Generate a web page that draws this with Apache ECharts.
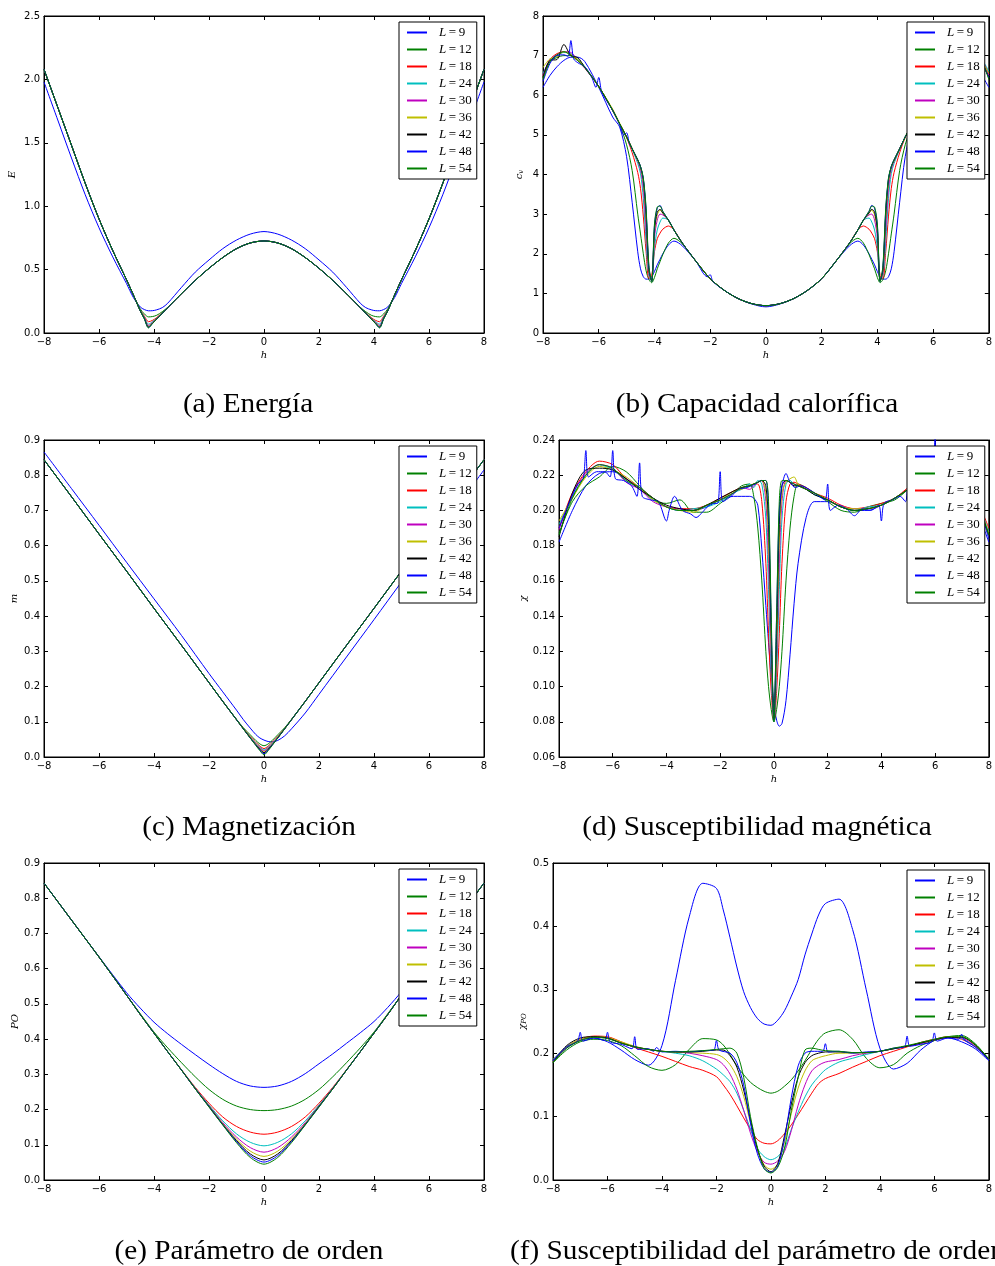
<!DOCTYPE html>
<html>
<head>
<meta charset="utf-8">
<script src="https://cdn.jsdelivr.net/npm/echarts@6/dist/echarts.min.js"></script>
<style>
html, body { margin: 0; padding: 0; background: #ffffff; }
#chart { width: 995px; height: 1266px; }
</style>
</head>
<body>
<div id="chart"></div>
<script>
// ---------- system sizes ----------
const sizeNames = ['L=9', 'L=12', 'L=18', 'L=24', 'L=30', 'L=36', 'L=42', 'L=48', 'L=54'];
const xTicks = [-8, -6, -4, -2, 0, 2, 4, 6, 8];

// ---------- (a) energy E(h) ----------
const hA = [-8,-7.5,-7,-6.5,-6,-5.5,-5,-4.75,-4.5,-4.35,-4.2,-4.05,-3.9,-3.7,-3.5,-3,-2.5,-2,-1.5,-1,-0.5,0,0.5,1,1.5,2,2.5,3,3.5,3.7,3.9,4.05,4.2,4.35,4.5,4.75,5,5.5,6,6.5,7,7.5,8];
const eL9  = [1.98,1.68,1.38,1.09,0.83,0.6,0.39,0.28,0.205,0.185,0.175,0.176,0.183,0.2,0.235,0.36,0.48,0.576,0.665,0.733,0.78,0.8,0.78,0.733,0.665,0.576,0.48,0.36,0.235,0.2,0.183,0.176,0.175,0.185,0.205,0.28,0.39,0.6,0.83,1.09,1.38,1.68,1.98];
const eL12 = [2.08,1.78,1.48,1.18,0.9,0.65,0.42,0.3,0.19,0.15,0.127,0.13,0.14,0.168,0.203,0.31,0.415,0.51,0.595,0.665,0.71,0.726,0.71,0.665,0.595,0.51,0.415,0.31,0.203,0.168,0.14,0.13,0.127,0.15,0.19,0.3,0.42,0.65,0.9,1.18,1.48,1.78,2.08];
const eL18 = [2.08,1.78,1.48,1.18,0.9,0.65,0.42,0.3,0.18,0.133,0.089,0.1,0.122,0.16,0.2,0.31,0.415,0.51,0.595,0.665,0.71,0.726,0.71,0.665,0.595,0.51,0.415,0.31,0.2,0.16,0.122,0.1,0.089,0.133,0.18,0.3,0.42,0.65,0.9,1.18,1.48,1.78,2.08];
const eL24 = [2.08,1.78,1.48,1.18,0.9,0.65,0.42,0.3,0.177,0.125,0.07,0.09,0.117,0.155,0.2,0.31,0.415,0.51,0.595,0.665,0.71,0.726,0.71,0.665,0.595,0.51,0.415,0.31,0.2,0.155,0.117,0.09,0.07,0.125,0.177,0.3,0.42,0.65,0.9,1.18,1.48,1.78,2.08];
const eL30 = [2.08,1.78,1.48,1.18,0.9,0.65,0.42,0.3,0.176,0.12,0.06,0.085,0.114,0.155,0.2,0.31,0.415,0.51,0.595,0.665,0.71,0.726,0.71,0.665,0.595,0.51,0.415,0.31,0.2,0.155,0.114,0.085,0.06,0.12,0.176,0.3,0.42,0.65,0.9,1.18,1.48,1.78,2.08];
const eL36 = [2.08,1.78,1.48,1.18,0.9,0.65,0.42,0.3,0.175,0.116,0.052,0.081,0.112,0.155,0.2,0.31,0.415,0.51,0.595,0.665,0.71,0.726,0.71,0.665,0.595,0.51,0.415,0.31,0.2,0.155,0.112,0.081,0.052,0.116,0.175,0.3,0.42,0.65,0.9,1.18,1.48,1.78,2.08];
const eL42 = [2.08,1.78,1.48,1.18,0.9,0.65,0.42,0.3,0.175,0.114,0.047,0.079,0.11,0.155,0.2,0.31,0.415,0.51,0.595,0.665,0.71,0.726,0.71,0.665,0.595,0.51,0.415,0.31,0.2,0.155,0.11,0.079,0.047,0.114,0.175,0.3,0.42,0.65,0.9,1.18,1.48,1.78,2.08];
const eL48 = [2.08,1.78,1.48,1.18,0.9,0.65,0.42,0.3,0.175,0.112,0.043,0.077,0.11,0.155,0.2,0.31,0.415,0.51,0.595,0.665,0.71,0.726,0.71,0.665,0.595,0.51,0.415,0.31,0.2,0.155,0.11,0.077,0.043,0.112,0.175,0.3,0.42,0.65,0.9,1.18,1.48,1.78,2.08];
const eL54 = [2.08,1.78,1.48,1.18,0.9,0.65,0.42,0.3,0.175,0.11,0.04,0.075,0.11,0.155,0.2,0.31,0.415,0.51,0.595,0.665,0.71,0.726,0.71,0.665,0.595,0.51,0.415,0.31,0.2,0.155,0.11,0.075,0.04,0.11,0.175,0.3,0.42,0.65,0.9,1.18,1.48,1.78,2.08];

// ---------- (b) specific heat c_v(h) ----------
const hB = [-8,-7.75,-7.5,-7.25,-7,-6.75,-6.5,-6,-5.5,-5.25,-5,-4.8,-4.6,-4.5,-4.4,-4.3,-4.2,-4.1,-4,-3.9,-3.8,-3.7,-3.5,-3.3,-3,-2.5,-2,-1.5,-1,-0.5,0,0.5,1,1.5,2,2.5,3,3.3,3.5,3.7,3.8,3.9,4,4.1,4.2,4.3,4.4,4.5,4.6,4.8,5,5.25,5.5,6,6.5,7,7.5,7.75,8];
const cL9  = [6.2,6.5,6.72,6.88,6.96,6.96,6.85,6.2,5.45,5.2,4.45,3.3,2.05,1.62,1.42,1.36,1.36,1.42,1.55,1.72,1.86,2.0,2.22,2.32,2.2, 1.8,1.37,1.08,0.87,0.73,0.66,0.73,0.87,1.08,1.37,1.8, 2.2,2.32,2.22,2.0,1.86,1.72,1.55,1.42,1.36,1.36,1.42,1.62,2.05,3.3,4.45,5.2,5.45,6.2,6.85,6.96,6.72,6.5,6.2];
const cL12 = [6.45,6.85,6.95,7.0,7.0,6.9,6.72,6.22,5.62,5.26,4.75,4.1,3.0,2.5,2.0,1.57,1.35,1.27,1.4,1.62,1.8,1.98,2.27,2.39,2.25, 1.8,1.37,1.08,0.87,0.74,0.69,0.74,0.87,1.08,1.37,1.8, 2.25,2.39,2.27,1.98,1.8,1.62,1.4,1.27,1.35,1.57,2.0,2.5,3.0,4.1,4.75,5.26,5.62,6.22,6.72,7.0,6.95,6.85,6.45];
const cL18 = [6.5,6.9,7.05,7.1,7.02,6.88,6.7,6.22,5.62,5.28,4.93,4.55,4.05,3.65,2.95,2.05,1.38,1.45,2.05,2.38,2.52,2.62,2.7,2.6,2.27, 1.8,1.37,1.08,0.87,0.74,0.69,0.74,0.87,1.08,1.37,1.8, 2.27,2.6,2.7,2.62,2.52,2.38,2.05,1.45,1.38,2.05,2.95,3.65,4.05,4.55,4.93,5.28,5.62,6.22,6.7,7.02,7.05,6.9,6.5];
const cL24 = [6.55,6.88,7.0,7.08,7.05,6.9,6.7,6.22,5.62,5.28,4.95,4.63,4.28,4.02,3.4,2.3,1.45,1.35,2.15,2.6,2.8,2.9,2.85,2.6,2.27, 1.8,1.37,1.08,0.87,0.74,0.69,0.74,0.87,1.08,1.37,1.8, 2.27,2.6,2.85,2.9,2.8,2.6,2.15,1.35,1.45,2.3,3.4,4.02,4.28,4.63,4.95,5.28,5.62,6.22,6.7,7.05,7.0,6.9,6.6];
const cL30 = [6.5,6.9,7.02,7.1,7.08,6.88,6.68,6.22,5.62,5.28,4.95,4.65,4.33,4.12,3.65,2.6,1.5,1.33,2.4,2.85,3.0,2.98,2.85,2.6,2.27, 1.8,1.37,1.08,0.87,0.74,0.69,0.74,0.87,1.08,1.37,1.8, 2.27,2.6,2.85,2.98,3.0,2.85,2.4,1.33,1.5,2.6,3.65,4.12,4.33,4.65,4.95,5.28,5.62,6.22,6.68,7.08,7.02,6.9,6.5];
const cL36 = [6.7,6.92,6.97,7.1,7.03,6.9,6.7,6.22,5.65,5.3,4.95,4.65,4.35,4.18,3.8,2.9,1.55,1.32,2.55,2.98,3.1,3.02,2.85,2.6,2.27, 1.8,1.37,1.08,0.87,0.74,0.69,0.74,0.87,1.08,1.37,1.8, 2.27,2.6,2.85,3.02,3.1,2.98,2.55,1.32,1.55,2.9,3.8,4.18,4.35,4.65,4.95,5.3,5.65,6.22,6.7,7.03,6.97,6.85,6.55];
const cL42 = [6.45,6.88,6.9,7.28,7.0,6.95,6.7,6.22,5.62,5.28,4.95,4.65,4.37,4.2,3.88,3.0,1.6,1.31,2.6,3.05,3.12,3.03,2.85,2.6,2.27, 1.8,1.37,1.08,0.87,0.74,0.69,0.74,0.87,1.08,1.37,1.8, 2.27,2.6,2.85,3.03,3.12,3.05,2.6,1.31,1.6,3.0,3.88,4.2,4.37,4.65,4.95,5.28,5.62,6.22,6.7,7.0,6.95,6.8,6.45];
const cL54 = [6.4,6.85,7.02,7.1,7.0,6.87,6.7,6.22,5.62,5.28,4.95,4.65,4.37,4.2,3.92,3.15,1.7,1.3,2.75,3.18,3.2,3.07,2.85,2.6,2.27, 1.8,1.37,1.08,0.87,0.74,0.69,0.74,0.87,1.08,1.37,1.8, 2.27,2.6,2.85,3.07,3.2,3.18,2.75,1.3,1.7,3.15,3.92,4.2,4.37,4.65,4.95,5.28,5.62,6.22,6.7,7.0,7.02,6.85,6.4];
// L=48 is the noisiest run, so it keeps its own finer abscissae
const hB48 = [-8,-7.75,-7.5,-7.25,-7.1,-7,-6.9,-6.75,-6.5,-6.25,-6.1,-6,-5.9,-5.75,-5.5,-5.25,-5.1,-5,-4.9,-4.8,-4.6,-4.5,-4.4,-4.3,-4.2,-4.1,-4,-3.9,-3.8,-3.7,-3.5,-3.3,-3,-2.5,-2.1,-2,-1.9,-1.5,-1,-0.5,0,0.5,1,1.5,2,2.5,3,3.3,3.5,3.7,3.8,3.9,4,4.1,4.2,4.3,4.4,4.5,4.6,4.8,5,5.25,5.5,6,6.5,7,7.5,7.75,8];
const cL48 = [6.35,6.8,7.0,7.02,6.98,7.38,6.92,6.82,6.72,6.45,6.2,6.45,6.1,5.9,5.62,5.27,5.0,5.05,4.78,4.65,4.37,4.2,3.9,3.1,1.65,1.3,2.7,3.15,3.22,3.07,2.85,2.6,2.27,1.8,1.42,1.47,1.3,1.08,0.87,0.74,0.69,0.74,0.87,1.08,1.37,1.8,2.27,2.6,2.85,3.07,3.22,3.15,2.7,1.3,1.65,3.1,3.9,4.2,4.37,4.65,4.95,5.27,5.62,6.22,6.72,7.0,6.95,6.8,6.45];

// ---------- (c) magnetization m(h) ----------
const hC = [-8,-7,-6,-5,-4,-3,-2,-1.5,-1,-0.75,-0.5,-0.3,-0.15,0,0.15,0.3,0.5,0.75,1,1.5,2,3,4,5,6,7,8];
const mL9  = [0.866,0.762,0.658,0.553,0.449,0.345,0.237,0.185,0.133,0.106,0.082,0.064,0.054,0.048,0.044,0.043,0.047,0.06,0.08,0.125,0.178,0.284,0.39,0.497,0.603,0.709,0.815];
const mL12 = [0.844,0.739,0.633,0.528,0.422,0.317,0.211,0.158,0.107,0.083,0.063,0.047,0.037,0.032,0.037,0.047,0.063,0.083,0.107,0.158,0.211,0.317,0.422,0.528,0.633,0.739,0.844];
const mL18 = [0.844,0.739,0.633,0.528,0.422,0.317,0.211,0.158,0.106,0.081,0.058,0.042,0.031,0.024,0.031,0.042,0.058,0.081,0.106,0.158,0.211,0.317,0.422,0.528,0.633,0.739,0.844];
const mL24 = [0.844,0.739,0.633,0.528,0.422,0.317,0.211,0.158,0.106,0.08,0.056,0.039,0.028,0.02,0.028,0.039,0.056,0.08,0.106,0.158,0.211,0.317,0.422,0.528,0.633,0.739,0.844];
const mL30 = [0.844,0.739,0.633,0.528,0.422,0.317,0.211,0.158,0.106,0.08,0.055,0.037,0.026,0.017,0.026,0.037,0.055,0.08,0.106,0.158,0.211,0.317,0.422,0.528,0.633,0.739,0.844];
const mL36 = [0.844,0.739,0.633,0.528,0.422,0.317,0.211,0.158,0.106,0.08,0.054,0.036,0.024,0.014,0.024,0.036,0.054,0.08,0.106,0.158,0.211,0.317,0.422,0.528,0.633,0.739,0.844];
const mL42 = [0.844,0.739,0.633,0.528,0.422,0.317,0.211,0.158,0.106,0.08,0.054,0.035,0.022,0.012,0.022,0.035,0.054,0.08,0.106,0.158,0.211,0.317,0.422,0.528,0.633,0.739,0.844];
const mL48 = [0.844,0.739,0.633,0.528,0.422,0.317,0.211,0.158,0.106,0.08,0.054,0.034,0.02,0.009,0.02,0.034,0.054,0.08,0.106,0.158,0.211,0.317,0.422,0.528,0.633,0.739,0.844];
const mL54 = [0.844,0.739,0.633,0.528,0.422,0.317,0.211,0.158,0.106,0.08,0.054,0.033,0.018,0.006,0.018,0.033,0.054,0.08,0.106,0.158,0.211,0.317,0.422,0.528,0.633,0.739,0.844];

// ---------- (d) magnetic susceptibility chi(h) ----------
const hD = [-8,-7.5,-7,-6.5,-6,-5.5,-5,-4.5,-4,-3.5,-3,-2.5,-2,-1.5,-1.2,-0.9,-0.75,-0.6,-0.45,-0.3,-0.2,-0.1,0,0.1,0.2,0.3,0.45,0.6,0.75,0.9,1.2,1.5,2,2.5,3,3.5,4,4.5,5,5.5,6,6.5,7,7.5,8];
const xL9  = [0.182,0.2,0.214,0.221,0.222,0.218,0.213,0.207,0.202,0.2,0.2,0.202,0.206,0.208,0.208,0.208,0.207,0.203,0.178,0.146,0.125,0.105,0.09,0.081,0.0775,0.079,0.092,0.118,0.147,0.17,0.196,0.205,0.205,0.202,0.2,0.2,0.203,0.207,0.212,0.217,0.221,0.222,0.216,0.202,0.182];
const xL12 = [0.187,0.205,0.214,0.219,0.225,0.222,0.214,0.206,0.204,0.206,0.199,0.199,0.204,0.21,0.214,0.215,0.208,0.19,0.16,0.12,0.1,0.087,0.08,0.087,0.1,0.12,0.16,0.19,0.208,0.215,0.213,0.21,0.205,0.2,0.199,0.202,0.204,0.206,0.212,0.218,0.223,0.224,0.219,0.207,0.186];
const xL18 = [0.19,0.21,0.222,0.228,0.226,0.218,0.213,0.207,0.202,0.201,0.201,0.203,0.207,0.211,0.213,0.214,0.215,0.215,0.205,0.17,0.13,0.097,0.08,0.097,0.13,0.17,0.205,0.215,0.216,0.215,0.213,0.21,0.207,0.203,0.201,0.202,0.204,0.207,0.213,0.218,0.223,0.226,0.221,0.208,0.19];
const xL24 = [0.192,0.208,0.22,0.226,0.223,0.217,0.212,0.206,0.202,0.2,0.201,0.202,0.205,0.21,0.212,0.215,0.213,0.217,0.215,0.195,0.155,0.107,0.08,0.107,0.155,0.195,0.215,0.217,0.215,0.214,0.212,0.209,0.206,0.202,0.2,0.202,0.203,0.207,0.212,0.217,0.222,0.225,0.22,0.207,0.188];
const xL30 = [0.189,0.209,0.221,0.226,0.224,0.216,0.212,0.205,0.202,0.201,0.2,0.203,0.206,0.21,0.213,0.212,0.214,0.216,0.217,0.205,0.17,0.115,0.081,0.115,0.17,0.205,0.217,0.216,0.215,0.214,0.212,0.21,0.206,0.202,0.201,0.201,0.203,0.207,0.212,0.217,0.222,0.225,0.22,0.207,0.186];
const xL36 = [0.194,0.207,0.219,0.225,0.223,0.219,0.213,0.206,0.202,0.2,0.199,0.203,0.206,0.211,0.212,0.214,0.215,0.216,0.217,0.21,0.182,0.122,0.081,0.122,0.182,0.21,0.216,0.218,0.219,0.215,0.212,0.21,0.206,0.202,0.201,0.201,0.203,0.207,0.212,0.217,0.222,0.225,0.22,0.207,0.187];
const xL42 = [0.185,0.21,0.223,0.224,0.223,0.218,0.212,0.207,0.203,0.201,0.2,0.203,0.207,0.211,0.213,0.214,0.215,0.216,0.217,0.214,0.192,0.13,0.082,0.13,0.192,0.214,0.217,0.216,0.214,0.214,0.212,0.209,0.206,0.202,0.2,0.201,0.203,0.207,0.212,0.217,0.222,0.225,0.221,0.207,0.186];
const xL54 = [0.186,0.207,0.22,0.226,0.224,0.217,0.213,0.207,0.202,0.2,0.2,0.203,0.206,0.21,0.213,0.214,0.215,0.216,0.217,0.217,0.205,0.14,0.08,0.14,0.205,0.217,0.217,0.216,0.215,0.214,0.212,0.21,0.206,0.202,0.2,0.201,0.203,0.207,0.212,0.217,0.222,0.225,0.22,0.207,0.186];
const hD48 = [-8,-7.6,-7.3,-7.1,-7,-6.9,-6.6,-6.3,-6.1,-6,-5.9,-5.6,-5.3,-5.1,-5,-4.9,-4.6,-4.3,-4,-3.9,-3.7,-3.4,-3.1,-2.9,-2.6,-2.3,-2.1,-2,-1.9,-1.6,-1.3,-1,-0.7,-0.45,-0.3,-0.2,-0.1,0,0.1,0.2,0.3,0.45,0.6,0.8,1,1.3,1.6,1.9,2,2.1,2.4,2.7,3,3.3,3.6,3.9,4,4.1,4.4,4.7,4.9,5,5.3,5.6,5.9,6,6.1,6.4,6.7,7,7.3,7.6,8];
const xL48 = [0.19,0.205,0.215,0.218,0.234,0.219,0.222,0.222,0.219,0.234,0.218,0.217,0.214,0.208,0.227,0.208,0.206,0.205,0.194,0.2,0.208,0.2,0.198,0.196,0.2,0.204,0.204,0.222,0.205,0.208,0.212,0.213,0.215,0.217,0.217,0.2,0.135,0.081,0.14,0.2,0.214,0.221,0.216,0.213,0.214,0.212,0.209,0.206,0.215,0.2,0.203,0.201,0.197,0.201,0.2,0.203,0.194,0.204,0.206,0.208,0.205,0.213,0.215,0.218,0.222,0.241,0.222,0.224,0.222,0.218,0.212,0.203,0.184];

// ---------- (e) order parameter PO(h) ----------
const hE = [-8,-7,-6,-5,-4.5,-4,-3.5,-3,-2.5,-2,-1.5,-1,-0.5,0,0.5,1,1.5,2,2.5,3,3.5,4,4.5,5,6,7,8];
const pL9  = [0.843,0.738,0.634,0.532,0.488,0.448,0.415,0.385,0.356,0.328,0.302,0.28,0.267,0.263,0.267,0.28,0.302,0.33,0.358,0.388,0.418,0.45,0.49,0.535,0.636,0.739,0.843];
const pL12 = [0.843,0.738,0.633,0.525,0.472,0.42,0.375,0.333,0.293,0.257,0.229,0.21,0.2,0.197,0.2,0.21,0.229,0.257,0.293,0.333,0.375,0.42,0.472,0.525,0.633,0.738,0.843];
const pL18 = [0.843,0.738,0.633,0.525,0.47,0.417,0.364,0.313,0.263,0.218,0.179,0.152,0.136,0.13,0.136,0.152,0.179,0.218,0.263,0.313,0.364,0.417,0.47,0.525,0.633,0.738,0.843];
const pL24 = [0.843,0.738,0.633,0.525,0.47,0.417,0.364,0.312,0.261,0.213,0.168,0.131,0.107,0.097,0.107,0.131,0.168,0.213,0.261,0.312,0.364,0.417,0.47,0.525,0.633,0.738,0.843];
const pL30 = [0.843,0.738,0.633,0.525,0.47,0.417,0.364,0.312,0.26,0.211,0.163,0.122,0.092,0.079,0.092,0.122,0.163,0.211,0.26,0.312,0.364,0.417,0.47,0.525,0.633,0.738,0.843];
const pL36 = [0.843,0.738,0.633,0.525,0.47,0.417,0.364,0.312,0.259,0.21,0.16,0.116,0.082,0.067,0.082,0.116,0.16,0.21,0.259,0.312,0.364,0.417,0.47,0.525,0.633,0.738,0.843];
const pL42 = [0.843,0.738,0.633,0.525,0.47,0.417,0.364,0.312,0.259,0.209,0.158,0.112,0.074,0.057,0.074,0.112,0.158,0.209,0.259,0.312,0.364,0.417,0.47,0.525,0.633,0.738,0.843];
const pL48 = [0.843,0.738,0.633,0.525,0.47,0.417,0.364,0.312,0.259,0.208,0.157,0.109,0.069,0.051,0.069,0.109,0.157,0.208,0.259,0.312,0.364,0.417,0.47,0.525,0.633,0.738,0.843];
const pL54 = [0.843,0.738,0.633,0.525,0.47,0.417,0.364,0.312,0.259,0.207,0.156,0.106,0.064,0.045,0.064,0.106,0.156,0.207,0.259,0.312,0.364,0.417,0.47,0.525,0.633,0.738,0.843];

// ---------- (f) order-parameter susceptibility chi_PO(h) ----------
const hF = [-8,-7.5,-7,-6.5,-6,-5.5,-5,-4.5,-4,-3.5,-3,-2.5,-2,-1.75,-1.5,-1.25,-1,-0.75,-0.5,-0.25,0,0.25,0.5,0.75,1,1.25,1.5,1.75,2,2.5,3,3.5,4,4.5,5,5.5,6,6.5,7,7.5,8];
const qL9  = [0.188,0.208,0.22,0.224,0.218,0.205,0.19,0.181,0.212,0.315,0.415,0.468,0.46,0.426,0.382,0.336,0.297,0.272,0.255,0.246,0.244,0.252,0.267,0.29,0.316,0.355,0.388,0.418,0.436,0.443,0.395,0.3,0.208,0.175,0.184,0.205,0.22,0.224,0.218,0.207,0.188];
const qL12 = [0.185,0.205,0.218,0.222,0.22,0.212,0.196,0.179,0.173,0.182,0.206,0.223,0.221,0.213,0.198,0.18,0.166,0.154,0.146,0.14,0.137,0.14,0.148,0.158,0.172,0.188,0.206,0.222,0.232,0.237,0.222,0.192,0.177,0.182,0.2,0.212,0.22,0.226,0.228,0.215,0.19];
const qL18 = [0.19,0.21,0.222,0.227,0.226,0.218,0.209,0.202,0.195,0.187,0.179,0.173,0.163,0.15,0.135,0.117,0.098,0.08,0.064,0.058,0.057,0.062,0.073,0.087,0.103,0.12,0.137,0.152,0.16,0.168,0.178,0.187,0.196,0.203,0.21,0.217,0.222,0.226,0.222,0.21,0.19];
const qL24 = [0.19,0.21,0.221,0.226,0.224,0.216,0.21,0.206,0.203,0.2,0.196,0.188,0.175,0.166,0.155,0.137,0.11,0.08,0.05,0.037,0.032,0.037,0.05,0.08,0.107,0.131,0.15,0.163,0.174,0.186,0.192,0.198,0.203,0.207,0.211,0.216,0.221,0.225,0.223,0.21,0.19];
const qL30 = [0.186,0.209,0.221,0.226,0.224,0.216,0.21,0.206,0.203,0.202,0.2,0.196,0.19,0.182,0.167,0.143,0.11,0.074,0.045,0.028,0.025,0.03,0.045,0.078,0.118,0.15,0.172,0.181,0.186,0.19,0.196,0.2,0.203,0.207,0.211,0.215,0.221,0.225,0.224,0.211,0.19];
const qL36 = [0.187,0.21,0.222,0.226,0.225,0.218,0.211,0.206,0.203,0.202,0.201,0.2,0.198,0.193,0.182,0.163,0.132,0.09,0.05,0.024,0.017,0.025,0.06,0.105,0.145,0.172,0.188,0.193,0.196,0.2,0.2,0.201,0.203,0.207,0.211,0.216,0.221,0.226,0.226,0.212,0.19];
const qL42 = [0.186,0.212,0.224,0.226,0.224,0.216,0.21,0.206,0.203,0.202,0.202,0.203,0.205,0.205,0.196,0.178,0.142,0.095,0.05,0.022,0.013,0.026,0.07,0.12,0.162,0.185,0.196,0.2,0.202,0.202,0.201,0.201,0.203,0.207,0.211,0.216,0.221,0.225,0.225,0.213,0.19];
const qL54 = [0.185,0.208,0.22,0.225,0.223,0.216,0.21,0.206,0.203,0.202,0.203,0.204,0.206,0.207,0.208,0.2,0.162,0.1,0.052,0.018,0.011,0.02,0.05,0.11,0.162,0.205,0.208,0.206,0.204,0.203,0.201,0.201,0.203,0.208,0.212,0.217,0.222,0.226,0.226,0.214,0.191];
const hF48 = [-8,-7.5,-7.1,-7,-6.9,-6.5,-6.1,-6,-5.9,-5.5,-5.1,-5,-4.9,-4.5,-4.3,-4.2,-4,-3.5,-3,-2.5,-2.1,-2,-1.9,-1.5,-1.25,-1,-0.75,-0.5,-0.25,0,0.25,0.5,0.75,1,1.25,1.5,1.9,2,2.1,2.5,3,3.5,4,4.5,4.9,5,5.1,5.5,5.9,6,6.1,6.5,6.9,7,7.1,7.5,8];
const qL48 = [0.188,0.21,0.219,0.233,0.219,0.224,0.22,0.233,0.218,0.214,0.207,0.226,0.206,0.207,0.203,0.209,0.202,0.203,0.202,0.204,0.205,0.22,0.205,0.2,0.185,0.15,0.09,0.042,0.018,0.012,0.022,0.065,0.13,0.18,0.2,0.203,0.203,0.215,0.202,0.203,0.2,0.202,0.203,0.208,0.21,0.227,0.211,0.214,0.218,0.232,0.219,0.224,0.222,0.23,0.221,0.21,0.19];

// ---------- panel definitions ----------
const panels = [
  { caption: '(a) Energía', yName: '{i|E}', yMin: 0, yMax: 2.5, yStep: 0.5, digits: 1,
    runs: [[hA,eL9],[hA,eL12],[hA,eL18],[hA,eL24],[hA,eL30],[hA,eL36],[hA,eL42],[hA,eL48],[hA,eL54]] },
  { caption: '(b) Capacidad calorífica', yName: '{i|c}{s|v}', yMin: 0, yMax: 8, yStep: 1, digits: 0,
    runs: [[hB,cL9],[hB,cL12],[hB,cL18],[hB,cL24],[hB,cL30],[hB,cL36],[hB,cL42],[hB48,cL48],[hB,cL54]] },
  { caption: '(c) Magnetización', yName: '{i|m}', yMin: 0, yMax: 0.9, yStep: 0.1, digits: 1,
    runs: [[hC,mL9],[hC,mL12],[hC,mL18],[hC,mL24],[hC,mL30],[hC,mL36],[hC,mL42],[hC,mL48],[hC,mL54]] },
  { caption: '(d) Susceptibilidad magnética', yName: '{i|χ}', yMin: 0.06, yMax: 0.24, yStep: 0.02, digits: 2,
    runs: [[hD,xL9],[hD,xL12],[hD,xL18],[hD,xL24],[hD,xL30],[hD,xL36],[hD,xL42],[hD48,xL48],[hD,xL54]] },
  { caption: '(e) Parámetro de orden', yName: '{i|PO}', yMin: 0, yMax: 0.9, yStep: 0.1, digits: 1,
    runs: [[hE,pL9],[hE,pL12],[hE,pL18],[hE,pL24],[hE,pL30],[hE,pL36],[hE,pL42],[hE,pL48],[hE,pL54]] },
  { caption: '(f) Susceptibilidad del parámetro de orden', yName: '{i|χ}{s|PO}', yMin: 0, yMax: 0.5, yStep: 0.1, digits: 1,
    runs: [[hF,qL9],[hF,qL12],[hF,qL18],[hF,qL24],[hF,qL30],[hF,qL36],[hF,qL42],[hF48,qL48],[hF,qL54]] }
];

// ---------- layout and style ----------
const gridBoxes = [
  { left: 44,  top: 16,  width: 440, height: 317 },
  { left: 543, top: 16,  width: 449, height: 317 },
  { left: 44,  top: 440, width: 440, height: 317 },
  { left: 559, top: 440, width: 433, height: 317 },
  { left: 44,  top: 863, width: 440, height: 317 },
  { left: 553, top: 863, width: 439, height: 317 }
];
const legendPos = [[399, 22], [907, 22], [399, 446], [907, 446], [399, 869], [907, 870]];
const yNameGap = [27, 18, 25, 31, 23, 25];
const captionPos = [
  { x: 248, y: 405, align: 'center' },
  { x: 757, y: 405, align: 'center' },
  { x: 249, y: 828, align: 'center' },
  { x: 757, y: 828, align: 'center' },
  { x: 249, y: 1252, align: 'center' },
  { x: 510, y: 1252, align: 'left' }
];
// captions are set in a slightly wide serif face
const captionStretch = 1.045;
const lineColors = ['#0000ff', '#008000', '#ff0000', '#00bfbf', '#bf00bf', '#bfbf00', '#000000', '#0000ff', '#008000'];
// legend key: a plain horizontal stroke, 20 x 2 px
const legendKey = 'path://M0,0H20V2H0Z';

const minus = s => String(s).replace('-', '\u2212');
const tickStyle = { show: true, inside: true, length: 4, lineStyle: { color: '#000', width: 1 } };
const frameLine = { show: true, onZero: false, lineStyle: { color: '#000', width: 1 } };
const tickFont = { color: '#000', fontFamily: 'DejaVu Sans', fontSize: 10 };
const nameRich = {
  i: { fontFamily: 'DejaVu Serif', fontStyle: 'italic', fontSize: 10, color: '#000' },
  s: { fontFamily: 'DejaVu Serif', fontStyle: 'italic', fontSize: 7, color: '#000', padding: [4, 0, 0, 0] }
};

const grid = [], xAxis = [], yAxis = [], series = [], legend = [], graphic = [];

panels.forEach((p, i) => {
  grid.push(Object.assign({ show: true, borderColor: '#000', borderWidth: 1, backgroundColor: 'transparent' }, gridBoxes[i]));

  xAxis.push({
    gridIndex: i, type: 'value', position: 'bottom', min: -8, max: 8, interval: 2,
    axisLine: frameLine, axisTick: tickStyle, splitLine: { show: false },
    axisLabel: Object.assign({ margin: 4, formatter: v => minus(v) }, tickFont),
    name: '{i|h}', nameLocation: 'middle', nameGap: 17,
    nameTextStyle: { rich: nameRich }
  });
  xAxis.push({
    gridIndex: i, type: 'value', position: 'top', min: -8, max: 8, interval: 2,
    axisLine: frameLine, axisTick: tickStyle, splitLine: { show: false }, axisLabel: { show: false }
  });

  yAxis.push({
    gridIndex: i, type: 'value', position: 'left', min: p.yMin, max: p.yMax, interval: p.yStep,
    axisLine: frameLine, axisTick: tickStyle, splitLine: { show: false },
    axisLabel: Object.assign({ margin: 4, formatter: v => minus(Number(v).toFixed(p.digits)) }, tickFont),
    name: p.yName, nameLocation: 'middle', nameRotate: 90, nameGap: yNameGap[i],
    nameTextStyle: { rich: nameRich }
  });
  yAxis.push({
    gridIndex: i, type: 'value', position: 'right', min: p.yMin, max: p.yMax, interval: p.yStep,
    axisLine: frameLine, axisTick: tickStyle, splitLine: { show: false }, axisLabel: { show: false }
  });

  p.runs.forEach(([h, v], k) => {
    series.push({
      type: 'line', name: sizeNames[k],
      xAxisIndex: 2 * i, yAxisIndex: 2 * i,
      data: h.map((x, j) => [x, v[j]]),
      symbol: 'none', smooth: 0.3, clip: true,
      lineStyle: { width: 1, color: lineColors[k] },
      itemStyle: { color: lineColors[k] },
      emphasis: { disabled: true }, silent: true
    });
  });

  legend.push({
    orient: 'vertical', left: legendPos[i][0], top: legendPos[i][1],
    data: sizeNames, selectedMode: false,
    icon: legendKey, symbolKeepAspect: true,
    itemWidth: 20, itemHeight: 14, itemGap: 4,
    padding: [4, 5, 4, 8],
    backgroundColor: '#ffffff', borderColor: '#000', borderWidth: 1, borderRadius: 0,
    formatter: n => '{i|L}{t|\u2009=\u2009' + n.split('=')[1] + '}',
    textStyle: {
      padding: [0, 0, 0, 7],
      rich: {
        i: { fontFamily: 'Liberation Serif', fontStyle: 'italic', fontSize: 13, color: '#000' },
        t: { fontFamily: 'Liberation Serif', fontSize: 13, color: '#000' }
      }
    }
  });

  const c = captionPos[i];
  graphic.push({
    type: 'text', x: c.x, y: c.y, scaleX: captionStretch, silent: true,
    style: {
      text: p.caption, fill: '#000',
      font: '28px "Liberation Serif"',
      textAlign: c.align, textVerticalAlign: 'middle',
      align: c.align, verticalAlign: 'middle'
    }
  });
});

const chart = echarts.init(document.getElementById('chart'), null, { renderer: 'canvas' });
chart.setOption({
  animation: false,
  backgroundColor: '#ffffff',
  grid, xAxis, yAxis, series, legend, graphic
});
</script>
</body>
</html>
